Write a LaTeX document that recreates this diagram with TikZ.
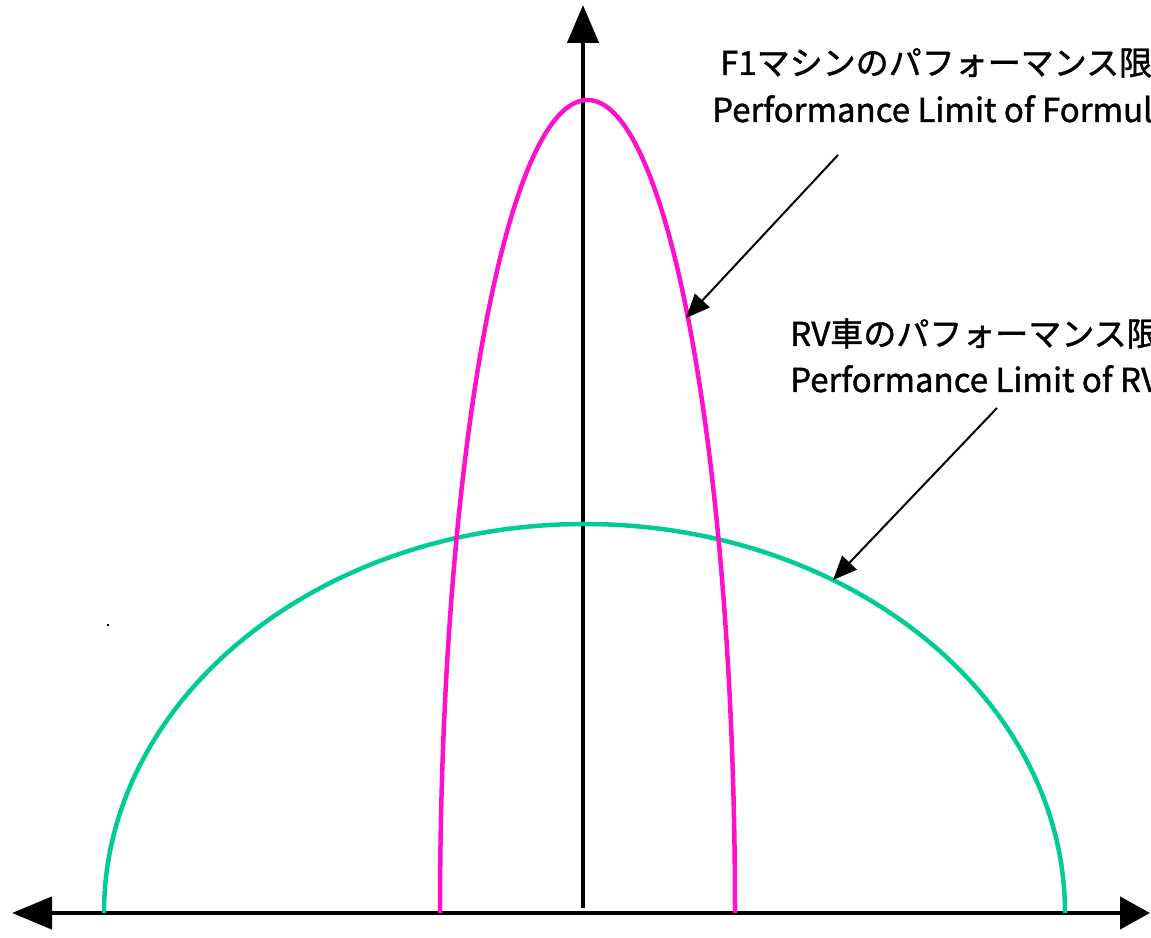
\documentclass[tikz,border=0pt]{standalone}
\usepackage{fontspec}
\newfontfamily\jpfont{Noto Sans CJK JP}[FakeBold=1.3]
\usetikzlibrary{arrows.meta}
\definecolor{fone}{RGB}{255,16,204}
\definecolor{rvcol}{RGB}{0,204,150}
\tikzset{
  axisline/.style={line width=4.5pt, draw=black},
  curveline/.style={line width=4.5pt},
  callout/.style={line width=2pt, -{Triangle[length=24pt,width=20pt]}},
  lbl/.style={anchor=base west, inner sep=0pt, font=\jpfont\fontsize{33}{40}\selectfont}
}
\begin{document}
\begin{tikzpicture}[x=1pt,y=1pt]
\useasboundingbox (0,0) rectangle (1151,937);
\clip (0,0) rectangle (1151,937);
% axes
\coordinate (xl) at (12,24);
\coordinate (xr) at (1150,24);
\coordinate (yb) at (583,29);
\coordinate (yt) at (583,932);
\draw[axisline, {Triangle[length=40pt,width=32pt]}-{Triangle[length=30pt,width=32pt]}] (xl) -- (xr);
\draw[axisline, -{Triangle[length=38pt,width=31pt]}] (yb) -- (yt);
% curves
\draw[curveline, draw=rvcol] (104,24) arc[start angle=180, end angle=0, x radius=480.5, y radius=389];
\draw[curveline, draw=fone] (440,24) arc[start angle=180, end angle=0, x radius=147.5, y radius=813];
% small dot
\fill (107,311) rectangle (109,313);
% labels
\node[lbl] (f1a) at (720,862) {F1マシンのパフォーマンス限界};
\node[lbl] (f1b) at (712,815) {Performance Limit of Formula 1};
\node[lbl] (rva) at (790,591) {RV車のパフォーマンス限界};
\node[lbl] (rvb) at (790,545) {Performance Limit of RV};
% callouts
\coordinate (f1s) at (838,782);
\coordinate (f1e) at (686,619);
\coordinate (rvs) at (997,529);
\coordinate (rve) at (833,357);
\draw[callout] (f1s) -- (f1e);
\draw[callout] (rvs) -- (rve);
\end{tikzpicture}
\end{document}
